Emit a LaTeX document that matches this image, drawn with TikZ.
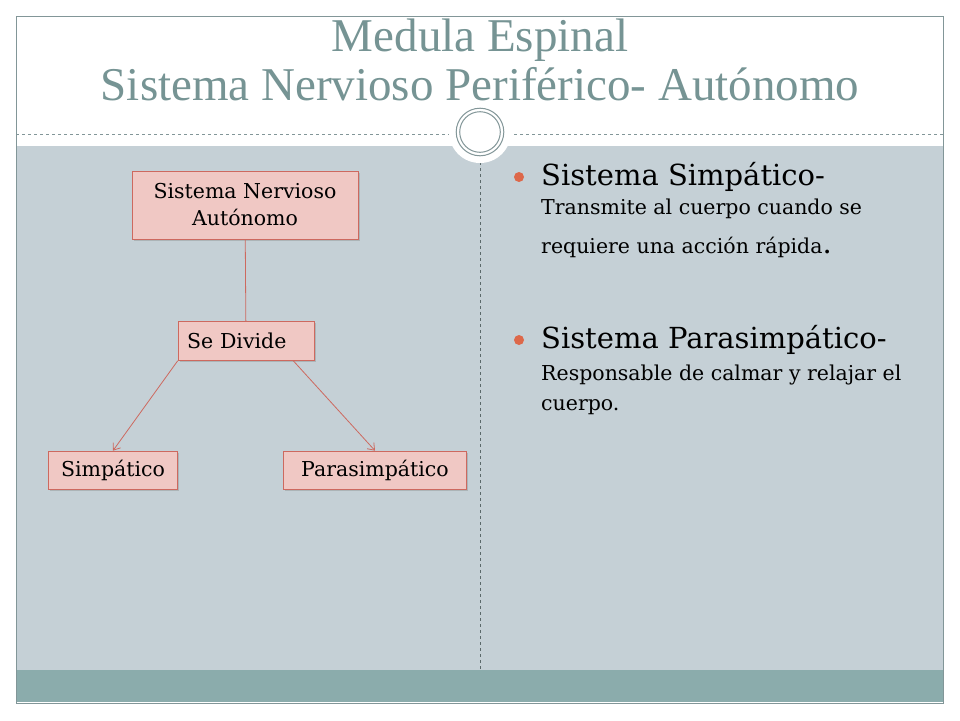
\documentclass[tikz,border=0pt]{standalone}
\usepackage{fontspec}
\setmainfont{DejaVu Serif}
\newfontfamily\titlefont{Liberation Serif}
\usetikzlibrary{positioning}
\usetikzlibrary{calc}
\usetikzlibrary{arrows.meta}
\usetikzlibrary{shadows}
\definecolor{slidegray}{RGB}{197, 208, 214}
\definecolor{slideteal}{RGB}{139, 172, 172}
\definecolor{titleteal}{RGB}{118, 148, 148}
\definecolor{boxpink}{RGB}{240, 200, 196}
\definecolor{boxedge}{RGB}{205, 105, 95}
\definecolor{bulletred}{RGB}{221, 104, 74}
\definecolor{framegray}{RGB}{130, 150, 152}

\begin{document}
\begin{tikzpicture}[
    x=1pt, y=-1pt,
    >={Straight Barb[length=6pt, width=9pt]},
    % node styles
    box/.style = {
      draw=boxedge,
      fill=boxpink,
      line width=0.7pt,
      align=center,
      inner sep=0pt,
      drop shadow={opacity=0.35, shadow xshift=1.5pt, shadow yshift=-1.5pt},
      font=\fontsize{20.5}{27}\selectfont
    },
    headline/.style = {
      anchor=base west,
      inner sep=0pt,
      font=\fontsize{29}{34}\selectfont
    },
    bodyline/.style = {
      anchor=base west,
      inner sep=0pt,
      font=\fontsize{20.5}{24}\selectfont
    },
    titleline/.style = {
      anchor=base,
      inner sep=0pt,
      text=titleteal,
      font=\titlefont\fontsize{47}{52}\selectfont
    },
    % arrow styles
    link/.style = {-, line width=0.8pt, draw=boxedge},
    arr/.style = {->, line width=0.8pt, draw=boxedge}
  ]

  \useasboundingbox (0,0) rectangle (960,720);
  \fill[white] (0,0) rectangle (960,720);

  % --- Background
  \fill[slidegray] (16,146) rectangle (943,670);
  \fill[slideteal] (16,670) rectangle (943,702);
  \draw[framegray, line width=0.8pt] (16,16) rectangle (943,703);
  \draw[framegray, dashed, line width=0.5pt] (16,134) -- (943,134);
  \draw[framegray!70!black, dashed, line width=0.5pt] (480,150) -- (480,670);
  \fill[white] (480,132) circle (31);
  \draw[framegray, line width=1pt] (480,132) circle (23.8);
  \draw[framegray, line width=1pt] (480,132) circle (20.3);

  % --- Title
  \node[titleline] (title1) at (480,51) {Medula Espinal};
  \node[titleline] (title2) at (480,100) {Sistema Nervioso Periférico- Autónomo};

  % --- Nodes
  \node[box, minimum width=226, minimum height=68] (sna) at (245,205) {Sistema Nervioso\\Autónomo};

  \node[box, minimum width=136, minimum height=39, text width=118, align=left] (divide) at (246,341) {Se Divide};

  \node[box, minimum width=129, minimum height=38] (simp) at (113,470) {Simpático};

  \node[box, minimum width=183, minimum height=38] (para) at (375,470) {Parasimpático};

  % --- Arrows
  \draw[link] (sna) -- (divide);
  \draw[arr] (divide.south west) -- (simp.north);
  \draw[arr] ($(divide.south east)+(-21,0)$) -- (para.north);

  % --- Right column
  \fill[bulletred] (519,177) circle (5);
  \node[headline] (simphead) at (541,185) {Sistema Simpático-};
  \node[bodyline] (simpl1) at (541,214) {Transmite al cuerpo cuando se};
  \node[bodyline] (simpl2) at (541,253) {requiere una acción rápida{\fontsize{29}{34}\selectfont.}};

  \fill[bulletred] (519,340) circle (5);
  \node[headline] (parahead) at (541,348) {Sistema Parasimpático-};
  \node[bodyline] (paral1) at (541,380) {Responsable de calmar y relajar el};
  \node[bodyline] (paral2) at (541,410) {cuerpo.};

\end{tikzpicture}
\end{document}
